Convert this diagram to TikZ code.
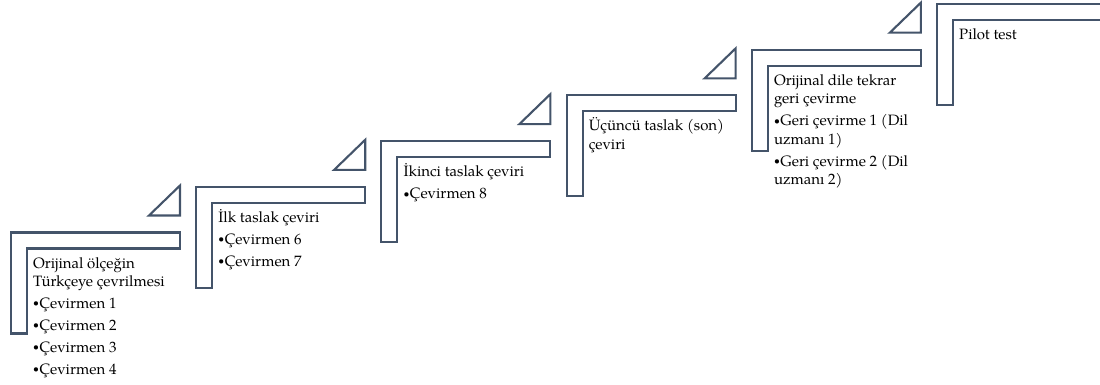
\documentclass[tikz,border=0pt]{standalone}
\usepackage{graphicx}
\usepackage{fontspec}
\setmainfont{TeX Gyre Pagella}
\definecolor{edgec}{HTML}{44546A}
\newcommand\stepbody[1]{\vtop{\hsize=200pt\fontsize{15}{18.5}\selectfont\raggedright\parindent=0pt\parskip=4.5pt\relax #1}}
\newcommand\sbul{\kern-1pt\raisebox{0.22ex}{\scalebox{0.7}{•}}\kern0.5pt}
\begin{document}
\begin{tikzpicture}[x=1pt,y=-1pt,
  corner/.style={draw=edgec,line width=2.1pt,line join=miter,fill=white},
  tri/.style={draw=edgec,line width=2.1pt,line join=miter,fill=white},
  steplabel/.style={anchor=base west,inner sep=0pt,text=black}]
\useasboundingbox (0,0) rectangle (1100,385);
\clip (0,0) rectangle (1100,385);
\foreach \i in {0,...,5}{
  \pgfmathsetmacro\L{11+185.2*\i}
  \pgfmathsetmacro\T{232.5-45.7*\i}
  \draw[corner] (\L,\T) -- ++(169,0) -- ++(0,16) -- ++(-153,0) -- ++(0,85) -- ++(-16,0) -- cycle;
  \coordinate (c\i) at (\L+22,\T+35.5);
}
\foreach \i in {0,...,4}{
  \pgfmathsetmacro\L{11+185.2*\i}
  \pgfmathsetmacro\T{232.5-45.7*\i}
  \draw[tri] (\L+138,\T-17) -- ++(31,0) -- ++(0,-30) -- cycle;
}
\node[steplabel] (t1) at (c0) {\stepbody{Orijinal ölçeğin\\Türkçeye çevrilmesi\par \sbul Çevirmen 1\par \sbul Çevirmen 2\par \sbul Çevirmen 3\par \sbul Çevirmen 4}};
\node[steplabel] (t2) at (c1) {\stepbody{İlk taslak çeviri\par \sbul Çevirmen 6\par \sbul Çevirmen 7}};
\node[steplabel] (t3) at (c2) {\stepbody{İkinci taslak çeviri\par \sbul Çevirmen 8}};
\node[steplabel] (t4) at (c3) {\stepbody{Üçüncü taslak (son)\\çeviri}};
\node[steplabel] (t5) at (c4) {\stepbody{Orijinal dile tekrar\\geri çevirme\par \sbul Geri çevirme 1 (Dil\\uzmanı 1)\par \sbul Geri çevirme 2 (Dil\\uzmanı 2)}};
\node[steplabel] (t6) at (c5) {\stepbody{Pilot test}};
\end{tikzpicture}
\end{document}
